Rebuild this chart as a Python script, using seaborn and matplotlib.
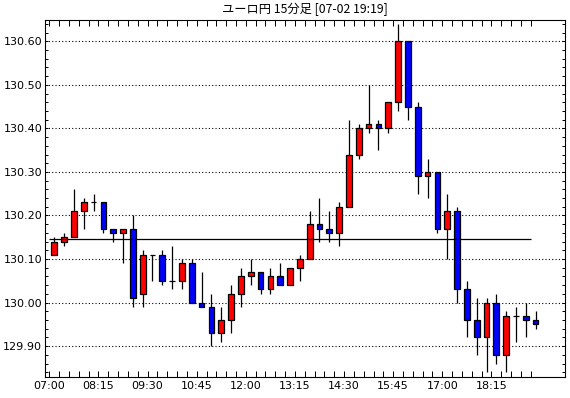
import numpy as np
import pandas as pd
import matplotlib.pyplot as plt
import seaborn as sns

# EUR/JPY 15-minute candles, 07:00 - 19:15
times = pd.date_range("2000-01-01 07:00", periods=50, freq="15min").strftime("%H:%M")
opens = [130.11, 130.14, 130.15, 130.21, 130.23, 130.23, 130.17, 130.16, 130.17, 130.02,
         130.11, 130.11, 130.05, 130.05, 130.09, 130.00, 129.99, 129.93, 129.96, 130.02,
         130.06, 130.07, 130.03, 130.06, 130.04, 130.08, 130.10, 130.18, 130.17, 130.16,
         130.22, 130.34, 130.40, 130.41, 130.40, 130.46, 130.60, 130.45, 130.29, 130.30,
         130.17, 130.21, 130.03, 129.96, 129.92, 130.00, 129.88, 129.97, 129.97, 129.96]
highs = [130.15, 130.16, 130.26, 130.24, 130.25, 130.23, 130.17, 130.17, 130.20, 130.12,
         130.11, 130.12, 130.13, 130.10, 130.10, 130.07, 130.02, 129.99, 130.04, 130.08,
         130.10, 130.07, 130.08, 130.09, 130.08, 130.11, 130.21, 130.24, 130.21, 130.23,
         130.42, 130.41, 130.50, 130.42, 130.46, 130.64, 130.60, 130.46, 130.33, 130.30,
         130.25, 130.22, 130.05, 130.01, 130.01, 130.02, 129.98, 129.99, 130.00, 129.98]
lows = [130.11, 130.13, 130.15, 130.17, 130.21, 130.16, 130.14, 130.09, 129.99, 129.99,
        130.05, 130.04, 130.03, 130.03, 130.00, 129.99, 129.90, 129.91, 129.93, 129.99,
        130.04, 130.02, 130.02, 130.04, 130.04, 130.05, 130.10, 130.14, 130.14, 130.13,
        130.22, 130.33, 130.39, 130.35, 130.39, 130.44, 130.42, 130.25, 130.24, 130.16,
        130.10, 130.00, 129.92, 129.88, 129.84, 129.86, 129.84, 129.91, 129.92, 129.94]
closes = [130.14, 130.15, 130.21, 130.23, 130.23, 130.17, 130.16, 130.17, 130.01, 130.11,
          130.11, 130.05, 130.05, 130.09, 130.00, 129.99, 129.93, 129.96, 130.02, 130.06,
          130.07, 130.03, 130.06, 130.04, 130.08, 130.10, 130.18, 130.17, 130.16, 130.22,
          130.34, 130.40, 130.41, 130.40, 130.46, 130.60, 130.45, 130.29, 130.30, 130.17,
          130.21, 130.03, 129.96, 129.92, 130.00, 129.88, 129.97, 129.97, 129.96, 129.95]
ref_level = 130.147

tick_labels = ["07:00", "08:15", "09:30", "10:45", "12:00",
               "13:15", "14:30", "15:45", "17:00", "18:15"]
y_ticks = [129.90, 130.00, 130.10, 130.20, 130.30, 130.40, 130.50, 130.60]

df = pd.DataFrame({"time": times, "open": opens, "high": highs,
                   "low": lows, "close": closes})
df["x"] = np.arange(len(df))
df["body_lo"] = df[["open", "close"]].min(axis=1)
df["body_h"] = (df["close"] - df["open"]).abs()
df["color"] = np.where(df["close"] > df["open"], "#ff0000", "#0000ff")

sns.set_theme(style="white")
plt.rcParams["font.family"] = ["DejaVu Sans"]
plt.rcParams["text.color"] = "black"
plt.rcParams["xtick.color"] = "black"
plt.rcParams["ytick.color"] = "black"

fig = plt.figure(figsize=(5.7, 3.98), dpi=100)
ax = fig.add_axes([45 / 570, 21 / 398, 520 / 570, 357 / 398])

ax.vlines(df["x"], df["low"], df["high"], color="black", lw=0.9, zorder=2)
ax.bar(df["x"], df["body_h"], bottom=df["body_lo"], width=0.58,
       color=df["color"], edgecolor="black", linewidth=0.9, zorder=3)
ax.hlines(ref_level, -0.5, len(df) - 1.5, color="black", lw=0.9, zorder=4)

ax.set_xlim(-0.94, 51.99)
ax.set_ylim(129.829, 130.649)

ax.set_xticks([i - 0.5 for i in range(0, len(df), 5)], labels=tick_labels)
ax.set_xticks([i - 0.5 for i in range(len(df))], minor=True)
ax.set_yticks(y_ticks, labels=[f"{v:.2f}" for v in y_ticks])
ax.set_yticks(np.arange(129.84, 130.65, 0.02), minor=True)

ax.tick_params(axis="x", which="both", direction="in", length=4.3, width=0.72,
               top=True, bottom=True, colors="black", labelsize=8, pad=3)
ax.tick_params(axis="y", which="both", direction="in", length=2.5, width=0.72,
               left=True, right=True, colors="black", labelsize=8, pad=2)

ax.yaxis.grid(True, which="major", color="black", linestyle=(0, (1, 2)), lw=0.8)
ax.xaxis.grid(False)
ax.set_axisbelow(True)
for s in ax.spines.values():
    s.set_color("black")
    s.set_linewidth(0.8)

fig.text(305 / 570, 1 - 9 / 398, "ユーロ円 15分足 [07-02 19:19]", ha="center", va="center",
         fontsize=8.8, color="black", family=["Noto Sans CJK JP", "DejaVu Sans"])

fig.savefig("out.png", dpi=100, facecolor="white")
